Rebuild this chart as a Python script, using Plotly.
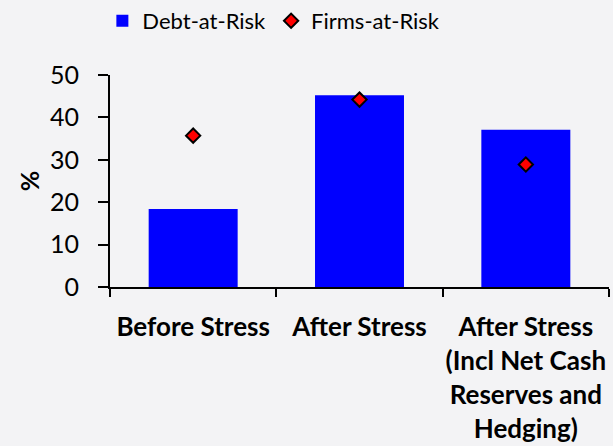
import plotly.graph_objects as go

# Share of corporate debt and of firms at risk under each scenario (%)
categories = [
    "Before Stress",
    "After Stress",
    "After Stress<br>(Incl Net Cash<br>Reserves and<br>Hedging)",
]
debt_at_risk = [18.4, 45.2, 37.1]
firms_at_risk = [35.7, 44.2, 28.9]

FONT = "Lato, 'Open Sans', sans-serif"

fig = go.Figure()
fig.add_trace(go.Bar(
    x=categories, y=debt_at_risk, name="Debt-at-Risk",
    marker=dict(color="#0000ff", line=dict(width=0)),
))
fig.add_trace(go.Scatter(
    x=categories, y=firms_at_risk, name="Firms-at-Risk", mode="markers",
    marker=dict(symbol="diamond", size=11, color="#ff0000",
                line=dict(color="#000000", width=2)),
))

fig.update_layout(
    width=613, height=446,
    margin=dict(l=110, r=4, t=75, b=159, autoexpand=False),
    paper_bgcolor="#f3f3f5", plot_bgcolor="#f3f3f5",
    font=dict(family=FONT, color="#000000", size=24),
    bargap=0.465,
    showlegend=True,
    legend=dict(
        orientation="h", xref="container", yref="container",
        x=0.167, y=1.0, xanchor="left", yanchor="top",
        font=dict(size=22), bgcolor="rgba(0,0,0,0)",
        itemwidth=30, tracegroupgap=0,
    ),
)
fig.update_xaxes(
    type="category", range=[-0.5, 2.5], automargin=False,
    showline=True, linecolor="#000000", linewidth=2,
    ticks="outside", tickson="boundaries", ticklen=8, tickwidth=2,
    tickcolor="#000000", showgrid=False, zeroline=False,
    tickangle=0,
    tickfont=dict(size=26, family=FONT, weight="bold"),
    ticklabelstandoff=16,
)
fig.update_yaxes(
    range=[0, 50], dtick=10, automargin=False,
    showline=True, linecolor="#000000", linewidth=2,
    ticks="outside", ticklen=10, tickwidth=2, tickcolor="#000000",
    showgrid=False, zeroline=False,
    tickfont=dict(size=25, family=FONT),
    ticklabelstandoff=14,
    title=dict(text="%", font=dict(size=25, family=FONT, weight="bold"),
               standoff=3),
)

fig.write_html("out.html")
